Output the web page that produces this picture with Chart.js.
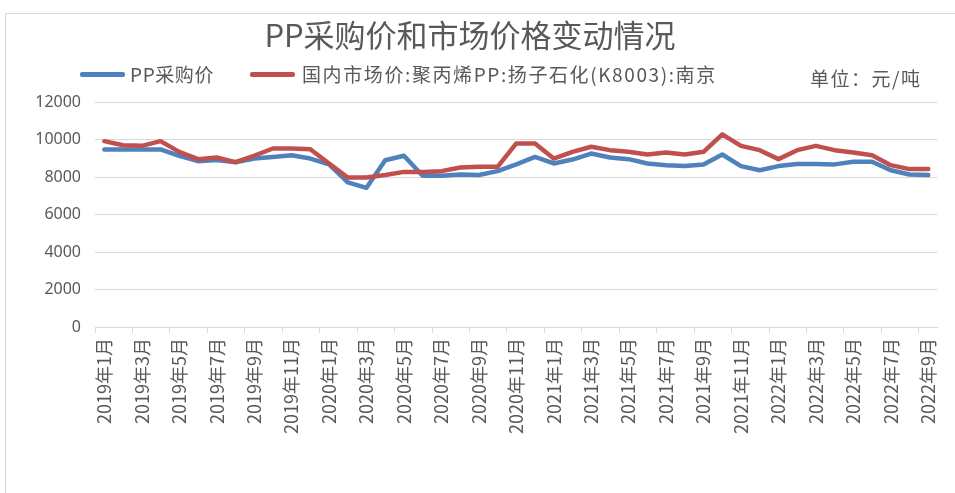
<!DOCTYPE html>
<html>
<head>
<meta charset="utf-8">
<script src="https://cdn.jsdelivr.net/npm/chart.js@4.4.1/dist/chart.umd.min.js"></script>
<style>
  html, body { margin: 0; padding: 0; background: #fff; overflow: hidden; }
  #wrap { position: relative; width: 955px; height: 493px; }
  #frame { position: absolute; left: 5px; top: 13px; width: 970px; height: 500px; border: 1px solid #d9d9d9; box-sizing: border-box; }
  #c { position: absolute; left: 0; top: 0; }
  .leg { position: absolute; font-family: "Noto Sans CJK SC", sans-serif; font-size: 19px; color: #595959; line-height: 22px; white-space: nowrap; }
  .sw { position: absolute; height: 5px; border-radius: 2px; }
</style>
</head>
<body>
<div id="wrap">
  <div id="frame"></div>
  <canvas id="c" width="955" height="493"></canvas>
  <div class="sw" style="left:80px; top:72px; width:45px; background:#4F81BD;"></div>
  <div class="leg" id="l1" style="left:130px; top:63px; letter-spacing:0.6px;"></div>
  <div class="sw" style="left:250px; top:72px; width:45px; background:#C0504D;"></div>
  <div class="leg" id="l2" style="left:302px; top:63px; letter-spacing:1.6px;"></div>
  <div class="leg" id="unit" style="left:810px; top:67px; letter-spacing:1.5px;"></div>
</div>
<script>
const titleText = 'PP采购价和市场价格变动情况';
const unitText = '单位：元/吨';
const seriesNames = ['PP采购价', '国内市场价:聚丙烯PP:扬子石化(K8003):南京'];

const months = [];
for (let y = 2019; y <= 2022; y++) {
  for (let m = 1; m <= 12; m++) {
    if (y === 2022 && m > 9) break;
    months.push(y + '年' + m + '月');
  }
}

const purchasePrice = [
  9480, 9480, 9480, 9480, 9140, 8850, 8920, 8790, 8990, 9080, 9170, 8990,
  8680, 7720, 7430, 8900, 9140, 8070, 8070, 8140, 8110, 8320, 8680, 9080,
  8730, 8940, 9260, 9050, 8960, 8730, 8640, 8600, 8680, 9210, 8590, 8370,
  8590, 8700, 8700, 8680, 8820, 8820, 8370, 8140, 8110
];
const marketPrice = [
  9920, 9700, 9670, 9920, 9350, 8960, 9050, 8800, 9140, 9530, 9530, 9490,
  8730, 7980, 7980, 8110, 8280, 8280, 8320, 8510, 8550, 8550, 9800, 9800,
  8990, 9350, 9620, 9440, 9350, 9210, 9320, 9210, 9350, 10280, 9670, 9440,
  8960, 9440, 9670, 9440, 9320, 9170, 8640, 8430, 8430
];
const yTicks = [0, 2000, 4000, 6000, 8000, 10000, 12000];

document.getElementById('l1').textContent = seriesNames[0];
document.getElementById('l2').textContent = seriesNames[1];
document.getElementById('unit').textContent = unitText;

const grey = '#595959';
new Chart(document.getElementById('c'), {
  type: 'line',
  data: {
    labels: months,
    datasets: [
      { label: seriesNames[0], data: purchasePrice, borderColor: '#4F81BD', backgroundColor: '#4F81BD',
        borderWidth: 4.5, pointRadius: 0, tension: 0, order: 1, borderJoinStyle: 'round', borderCapStyle: 'round' },
      { label: seriesNames[1], data: marketPrice, borderColor: '#C0504D', backgroundColor: '#C0504D',
        borderWidth: 4.5, pointRadius: 0, tension: 0, order: 0, borderJoinStyle: 'round', borderCapStyle: 'round' }
    ]
  },
  options: {
    responsive: false,
    animation: false,
    layout: { padding: { right: 15, left: 0, bottom: 0 } },
    plugins: {
      legend: { display: false },
      tooltip: { enabled: false },
      title: {
        display: true, text: titleText, color: grey,
        font: { family: '"Noto Sans CJK SC", sans-serif', size: 31, weight: 'normal' },
        padding: { top: 17, bottom: 48 }
      }
    },
    scales: {
      x: {
        type: 'category',
        offset: true,
        grid: {
          offset: true, drawOnChartArea: false, drawTicks: true, tickLength: 6,
          color: (ctx) => (ctx.index % 2 === 0 ? '#d9d9d9' : 'rgba(0,0,0,0)'),
          tickColor: (ctx) => (ctx.index % 2 === 0 ? '#d9d9d9' : 'rgba(0,0,0,0)')
        },
        border: { display: true, color: '#d9d9d9', width: 1 },
        ticks: {
          autoSkip: false, maxRotation: 90, minRotation: 90, padding: 5,
          color: grey, font: { family: '"Noto Sans CJK SC", sans-serif', size: 18 },
          callback: function (v, i) { return i % 2 === 0 ? months[i] : ''; }
        },
        afterFit: (s) => { s.height = 166; }
      },
      y: {
        min: 0, max: 12000,
        afterBuildTicks: (s) => { s.ticks = yTicks.map(v => ({ value: v })); },
        grid: { color: '#d9d9d9', drawTicks: false },
        border: { display: false },
        ticks: { padding: 14, color: grey, font: { family: '"Noto Sans", sans-serif', size: 16 },
          callback: (v) => String(v) },
        afterFit: (s) => { s.width = 95; }
      }
    }
  }
});
</script>
</body>
</html>
